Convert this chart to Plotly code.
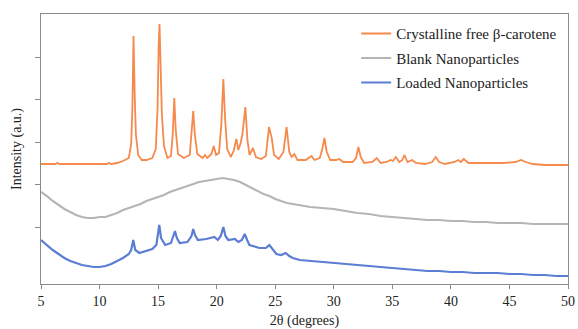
import plotly.graph_objects as go

# 2θ (degrees) and intensities (a.u.)
orange_x = [5, 6.2, 6.4, 6.6, 8, 10.6, 10.8, 11.0, 11.5, 12.0, 12.5, 12.7, 12.8, 12.9, 13.0, 13.1, 13.3, 13.6,
            14.0, 14.5, 14.8, 14.95, 15.05, 15.12, 15.2, 15.32, 15.5, 15.8, 16.1, 16.25, 16.38, 16.5, 16.7,
            17.2, 17.7, 17.87, 18.0, 18.13, 18.35, 18.8, 19.0, 19.2, 19.55, 19.75, 19.95, 20.2, 20.4, 20.57,
            20.72, 20.9, 21.2, 21.45, 21.68, 21.85, 22.05, 22.2, 22.45, 22.62, 22.8, 23.1, 23.35, 23.8, 24.2,
            24.47, 24.7, 24.9, 25.3, 25.7, 25.97, 26.2, 26.4, 26.63, 26.9, 27.6, 27.9, 28.1, 28.35, 28.8, 29.0,
            29.2, 29.4, 29.7, 30.2, 30.47, 30.8, 31.6, 31.9, 32.1, 32.3, 32.6, 33.3, 33.67, 34.0, 34.5, 34.86,
            35.05, 35.3, 35.6, 35.85, 36.03, 36.3, 36.7, 37.0, 37.8, 38.4, 38.7, 39.0, 39.5, 40.3, 40.63, 40.85,
            41.1, 41.5, 42.5, 43.5, 44.5, 45.5, 46.0, 46.4, 47.0, 48, 50]
orange_y = [120, 120, 121, 120, 120, 120, 121, 120, 121, 123, 126, 140, 175, 248, 190, 150, 129, 124,
            124, 126, 135, 175, 240, 260, 225, 170, 138, 126, 128, 150, 186, 155, 130,
            126, 129, 150, 173, 150, 130, 126, 129, 126, 130, 138, 129, 131, 160, 205,
            165, 135, 127, 133, 145, 134, 141, 150, 177, 145, 129, 136, 127, 125, 128,
            157, 146, 129, 125, 132, 157, 132, 127, 130, 124, 124, 126, 128, 124, 126, 134,
            146, 132, 124, 124, 125, 122, 122, 126, 137, 127, 121, 122, 126, 121, 122, 124,
            123, 127, 122, 124, 129, 122, 124, 121, 120, 122, 127, 122, 120, 122, 124, 122,
            125, 121, 121, 121, 121, 122, 124, 122, 120, 119, 119]

gray_x = [5, 5.5, 6, 6.5, 7, 7.5, 8, 8.5, 9, 9.5, 10, 10.5, 11, 11.5, 12, 12.5, 13, 13.5, 14, 14.5, 15,
          15.5, 16, 16.5, 17, 17.5, 18, 18.5, 19, 19.5, 20, 20.5, 21, 21.5, 22, 22.5, 23, 23.5, 24, 24.5,
          25, 25.5, 26, 27, 28, 29, 30, 31, 32, 33, 34, 35, 36, 37, 38, 39, 40, 41, 42, 43, 44, 45, 46,
          47, 48, 49, 50]
gray_y = [92, 88, 83, 79, 75, 72, 69, 67, 66, 66, 67, 67, 69, 71, 74, 76, 78, 80, 83, 85, 87,
          89, 92, 94, 96, 98, 100, 102, 103, 104, 105, 106, 105, 104, 102, 99, 96, 93, 90, 88,
          85, 83, 81, 79, 77, 76, 75, 73, 71, 70, 68, 67, 66, 65, 64, 64, 63, 63, 62, 62, 61, 61, 61,
          60, 60, 60, 60]

blue_x = [5, 5.5, 6, 6.5, 7, 7.5, 8, 8.5, 9, 9.5, 10, 10.5, 11, 11.5, 12, 12.5, 12.7, 12.88, 13.05, 13.4,
          14, 14.5, 14.85, 15.0, 15.1, 15.25, 15.6, 16.1, 16.3, 16.44, 16.6, 16.85, 17.5, 17.85, 18.0,
          18.15, 18.4, 19.1, 19.8, 20.1, 20.35, 20.57, 20.75, 21.0, 21.55, 21.85, 22.15, 22.4, 22.6, 22.8,
          23.65, 24.2, 24.5, 24.8, 25.1, 25.5, 25.9, 26.2, 26.5, 27.1, 28, 29, 30, 31, 32, 33, 34, 35, 36,
          37, 38, 39, 40, 41, 42, 43, 44, 45, 46, 47, 48, 49, 50]
blue_y = [44, 39, 34, 30, 26, 23, 21, 19, 18, 17, 17, 18, 20, 23, 26, 30, 34, 44, 34, 31,
          33, 35, 39, 49, 59, 46, 39, 41, 48, 53, 46, 41, 42, 48, 55,
          49, 44, 45, 47, 44, 48, 57, 48, 44, 45, 42, 44, 50, 44, 39,
          36, 36, 39, 35, 30, 29, 31, 28, 26, 24, 23, 22, 21, 20, 19, 18, 17, 16, 15,
          14, 13, 13, 12, 12, 11, 11, 11, 10, 10, 9, 9, 8, 8]

names = ["Crystalline free β-carotene", "Blank Nanoparticles", "Loaded Nanoparticles"]
colors = ["#F6894C", "#B5B5B5", "#5B7ED4"]
widths = [1.8, 2.2, 2.2]
x_ticks = [5, 10, 15, 20, 25, 30, 35, 40, 45, 50]
y_ticks = [57, 99.5, 142, 184.5, 227]

FONT = "Liberation Serif"

fig = go.Figure()
for i, (xs, ys) in enumerate([(orange_x, orange_y), (gray_x, gray_y), (blue_x, blue_y)]):
    fig.add_trace(go.Scatter(x=xs, y=ys, mode="lines", name=names[i], legendgroup=str(i),
                             line=dict(color=colors[i], width=widths[i])))

axis_col = "#8A8A8A"
fig.update_layout(
    width=578, height=329,
    margin=dict(l=41, r=10, t=14, b=45, autoexpand=False),
    paper_bgcolor="white", plot_bgcolor="white",
    font=dict(family=FONT, size=14, color="#222222"),
    showlegend=True,
    legend=dict(x=0.598, y=0.988, xanchor="left", yanchor="top", bgcolor="rgba(0,0,0,0)",
                font=dict(family=FONT, size=15, color="#222222"), itemwidth=30,
                tracegroupgap=2),
    xaxis=dict(range=[5, 50], tickvals=x_ticks, ticks="outside", ticklen=4, tickcolor=axis_col,
               showline=True, linecolor=axis_col, linewidth=1, mirror=True, showgrid=False,
               zeroline=False, automargin=False,
               title=dict(text="2θ (degrees)", standoff=12, font=dict(size=14)),
               tickfont=dict(size=14)),
    yaxis=dict(range=[0, 270], tickvals=y_ticks, ticks="outside", ticklen=5, tickcolor=axis_col,
               showticklabels=False, showline=True, linecolor=axis_col, linewidth=1, mirror=True,
               showgrid=False, zeroline=False, automargin=False,
               title=dict(text="Intensity (a.u.)", standoff=10, font=dict(size=14))),
)

fig.write_html("out.html")
